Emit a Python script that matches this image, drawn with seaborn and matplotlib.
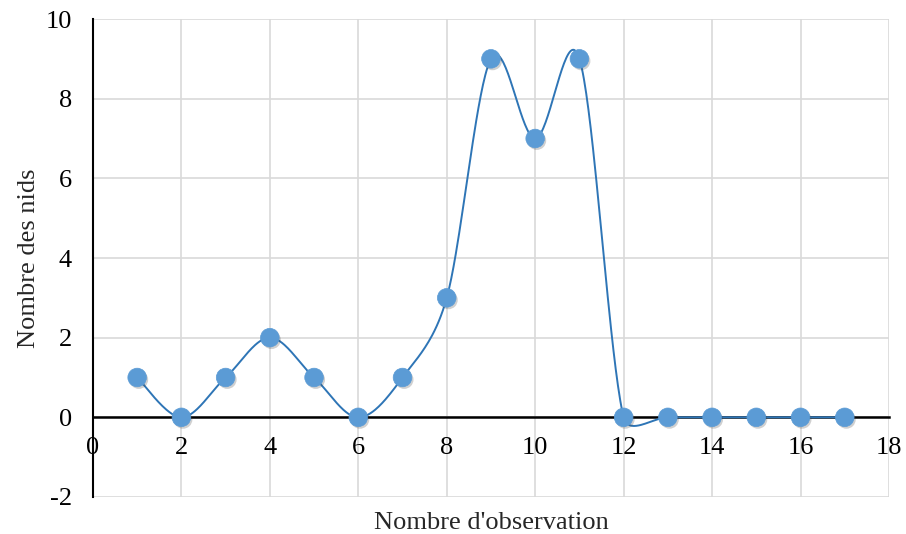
import numpy as np
import pandas as pd
import seaborn as sns
import matplotlib.pyplot as plt
import matplotlib.patheffects as pe

# observations and nest counts
obs = [1, 2, 3, 4, 5, 6, 7, 8, 9, 10, 11, 12, 13, 14, 15, 16, 17]
nids = [1, 0, 1, 2, 1, 0, 1, 3, 9, 7, 9, 0, 0, 0, 0, 0, 0]

df = pd.DataFrame({"obs": obs, "nids": nids})


def smooth(x, y, n=40, cap=0.5):
    # bezier curve through the points, like Excel's "smoothed line"
    P = np.column_stack([x, y]).astype(float)
    P = np.vstack([P[0], P, P[-1]])
    t = np.linspace(0, 1, n)[:, None]
    out = []
    for i in range(1, len(P) - 2):
        p0, p1, p2, p3 = P[i - 1], P[i], P[i + 1], P[i + 2]
        seg = np.linalg.norm(p2 - p1)
        a = (p2 - p0) / 6
        b = (p3 - p1) / 6
        if np.linalg.norm(a) > cap * seg:
            a = a / np.linalg.norm(a) * cap * seg
        if np.linalg.norm(b) > cap * seg:
            b = b / np.linalg.norm(b) * cap * seg
        c1, c2 = p1 + a, p2 - b
        out.append((1 - t) ** 3 * p1 + 3 * (1 - t) ** 2 * t * c1
                   + 3 * (1 - t) * t ** 2 * c2 + t ** 3 * p2)
    out = np.vstack(out)
    return out[:, 0], out[:, 1]


sx, sy = smooth(obs, nids)

sns.set_style("white")
plt.rcParams["font.family"] = "serif"
plt.rcParams["font.serif"] = ["Liberation Serif", "Times New Roman", "DejaVu Serif"]
plt.rcParams["axes.unicode_minus"] = False

fig = plt.figure(figsize=(9.06, 5.34), dpi=100)
ax = fig.add_axes([0.1026, 0.0693, 0.8786, 0.8951])

ax.plot(sx, sy, color="#2E75B6", lw=1.4, zorder=3)
sns.scatterplot(data=df, x="obs", y="nids", ax=ax, s=180, color="#5B9BD5",
                edgecolor="#5B9BD5", linewidth=0.5, zorder=4,
                path_effects=[pe.SimplePatchShadow(offset=(1.2, -1.5), alpha=0.25,
                                                   shadow_rgbFace="#444444"),
                              pe.Normal()])

ax.set_xlim(0, 18)
ax.set_ylim(-2, 10)
ax.set_xticks(range(0, 19, 2))
ax.set_yticks(range(-2, 11, 2))
ax.grid(True, color="#D9D9D9", lw=1.2)
ax.set_axisbelow(True)

for s in ["top", "right"]:
    ax.spines[s].set_visible(False)
ax.spines["left"].set_color("black")
ax.spines["left"].set_linewidth(1.5)
ax.spines["bottom"].set_position(("data", 0))
ax.spines["bottom"].set_color("black")
ax.spines["bottom"].set_linewidth(1.8)
ax.spines["bottom"].set_zorder(2.5)

ax.tick_params(axis="both", length=0, labelsize=19, colors="black")
ax.tick_params(axis="y", pad=15)
ax.tick_params(axis="x", pad=14)

ax.set_xlabel("Nombre d'observation", fontsize=19, labelpad=38)
ax.set_ylabel("Nombre des nids", fontsize=19, labelpad=4)

fig.savefig("out.png", dpi=100)
